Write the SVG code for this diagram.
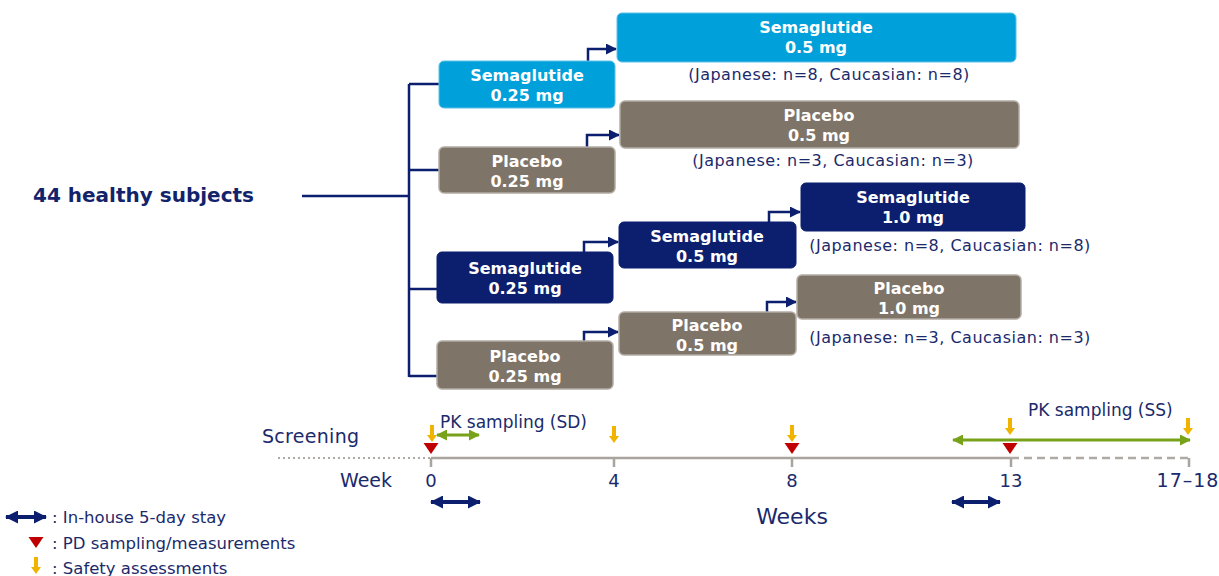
<svg xmlns="http://www.w3.org/2000/svg" width="1219" height="576" viewBox="0 0 1219 576">
<style>
.bx{font-family:"DejaVu Sans",Verdana,sans-serif;font-weight:bold;font-size:16px;fill:#fff;text-anchor:middle}
.lb{font-family:"DejaVu Sans",Verdana,sans-serif;font-size:16px;letter-spacing:0.5px;fill:#1b2a6b;text-anchor:middle}
.tl{font-family:"DejaVu Sans",Verdana,sans-serif;fill:#1b2a6b}
.lg{font-family:"DejaVu Sans",Verdana,sans-serif;font-size:16.5px;fill:#1b2a6b}
.lblue{fill:#00a0da;stroke:#5cc0e8;stroke-width:1}
.gray{fill:#7f7468;stroke:#b3aca4;stroke-width:1.5}
.navy{fill:#0c1f6f;stroke:#0c1f6f;stroke-width:1}
.conn{fill:none;stroke:#0c1f6f;stroke-width:2.5}
.elb{fill:none;stroke:#0c1f6f;stroke-width:2.5;marker-end:url(#ah)}
.green{fill:none;stroke:#78a21a;stroke-width:3;marker-start:url(#gh);marker-end:url(#gh)}
.stay{fill:none;stroke:#0c1f6f;stroke-width:4;marker-start:url(#nh);marker-end:url(#nh)}
.tri{fill:#c00000}
.saf{fill:#f0b400}
</style>
<defs>
<marker id="ah" markerWidth="11" markerHeight="11" refX="10" refY="5.5" orient="auto" markerUnits="userSpaceOnUse"><path d="M0,0 L11,5.5 L0,11 z" fill="#0c1f6f"/></marker>
<marker id="gh" markerWidth="11" markerHeight="11" refX="10" refY="5.5" orient="auto-start-reverse" markerUnits="userSpaceOnUse"><path d="M0,0 L11,5.5 L0,11 z" fill="#78a21a"/></marker>
<marker id="nh" markerWidth="13" markerHeight="13" refX="12" refY="6.5" orient="auto-start-reverse" markerUnits="userSpaceOnUse"><path d="M0,0 L13,6.5 L0,13 z" fill="#0c1f6f"/></marker>
<symbol id="sa" overflow="visible"><path d="M-2,0 L2,0 L2,10 L5,10 L0,17 L-5,10 L-2,10 z" class="saf"/></symbol>
<symbol id="pd" overflow="visible"><path d="M-7.5,0 L7.5,0 L0,11 z" class="tri"/></symbol>
</defs>

<g id="connectors">
<path class="conn" d="M302,196 L409,196"/>
<path class="conn" d="M409,84 L409,377"/>
<path class="conn" d="M409,84 L439,84 M409,170 L439,170 M409,289 L437,289 M409,376 L437,376"/>
<path class="elb" d="M588,61 L588,49 L616,49"/>
<path class="elb" d="M587,147 L587,135 L619,135"/>
<path class="elb" d="M584,252 L584,242 L618,242"/>
<path class="elb" d="M584,341 L584,332 L618,332"/>
<path class="elb" d="M769,222 L769,212 L800,212"/>
<path class="elb" d="M767,312 L767,302 L796,302"/>
</g>

<g id="subjects"><text x="33" y="202" font-family="DejaVu Sans,Verdana,sans-serif" font-weight="bold" font-size="20" fill="#13236b">44 healthy subjects</text></g>

<g id="sema025a"><rect class="lblue" x="439" y="61" width="176" height="47" rx="5"/><text class="bx" x="527" y="81">Semaglutide</text><text class="bx" x="527" y="101">0.25 mg</text></g>
<g id="sema05a"><rect class="lblue" x="617" y="13" width="399" height="49" rx="5"/><text class="bx" x="816" y="33">Semaglutide</text><text class="bx" x="816" y="53">0.5 mg</text><text class="lb" x="829" y="80">(Japanese: n=8, Caucasian: n=8)</text></g>
<g id="plac025a"><rect class="gray" x="439" y="147" width="176" height="46" rx="5"/><text class="bx" x="527" y="167">Placebo</text><text class="bx" x="527" y="187">0.25 mg</text></g>
<g id="plac05a"><rect class="gray" x="620" y="101" width="399" height="47" rx="5"/><text class="bx" x="819" y="121">Placebo</text><text class="bx" x="819" y="141">0.5 mg</text><text class="lb" x="833" y="166">(Japanese: n=3,  Caucasian: n=3)</text></g>
<g id="sema025b"><rect class="navy" x="437" y="252" width="176" height="51" rx="5"/><text class="bx" x="525" y="274">Semaglutide</text><text class="bx" x="525" y="294">0.25 mg</text></g>
<g id="sema05b"><rect class="navy" x="619" y="222" width="177" height="46" rx="5"/><text class="bx" x="707" y="242">Semaglutide</text><text class="bx" x="707" y="262">0.5 mg</text></g>
<g id="sema10"><rect class="navy" x="801" y="183" width="224" height="48" rx="5"/><text class="bx" x="913" y="203">Semaglutide</text><text class="bx" x="913" y="223">1.0 mg</text><text class="lb" x="950" y="251">(Japanese: n=8, Caucasian: n=8)</text></g>
<g id="plac025b"><rect class="gray" x="437" y="341" width="176" height="48" rx="5"/><text class="bx" x="525" y="362">Placebo</text><text class="bx" x="525" y="382">0.25 mg</text></g>
<g id="plac05b"><rect class="gray" x="619" y="312" width="177" height="43" rx="5"/><text class="bx" x="707" y="331">Placebo</text><text class="bx" x="707" y="351">0.5 mg</text></g>
<g id="plac10"><rect class="gray" x="797" y="275" width="224" height="44" rx="5"/><text class="bx" x="909" y="294">Placebo</text><text class="bx" x="909" y="314">1.0 mg</text><text class="lb" x="950" y="343">(Japanese: n=3, Caucasian: n=3)</text></g>

<g id="timeline">
<path d="M278,458 L431,458" stroke="#b0aaa4" stroke-width="2" stroke-dasharray="2,3"/>
<path d="M431,458 L1011,458" stroke="#aaa49e" stroke-width="2.5"/>
<path d="M1011,458 L1189,458" stroke="#b0aaa4" stroke-width="2.5" stroke-dasharray="8,5"/>
<path d="M431,458 V467 M614,458 V467 M792,458 V467 M1011,458 V467 M1189,458 V467" stroke="#aaa49e" stroke-width="2.5"/>
<text class="tl" x="262" y="443" style="font-size:19px;letter-spacing:0.3px">Screening</text>
<text class="tl" x="340" y="487" style="font-size:19px">Week</text>
<text class="tl" x="431" y="487" text-anchor="middle" style="font-size:18px">0</text>
<text class="tl" x="614" y="487" text-anchor="middle" style="font-size:18px">4</text>
<text class="tl" x="792" y="487" text-anchor="middle" style="font-size:18px">8</text>
<text class="tl" x="1011" y="487" text-anchor="middle" style="font-size:18px">13</text>
<text class="tl" x="1188" y="487" text-anchor="middle" style="font-size:19px;letter-spacing:1px">17–18</text>
<text class="tl" x="792" y="524" text-anchor="middle" style="font-size:22px">Weeks</text>
<text class="tl" x="440" y="428" style="font-size:17px">PK sampling (SD)</text>
<text class="tl" x="1028" y="416" style="font-size:17px">PK sampling (SS)</text>
<path class="green" d="M437,435 L479,435"/>
<path class="green" d="M953,440 L1190,440"/>
<use href="#sa" x="432" y="425"/>
<use href="#sa" x="614" y="426"/>
<use href="#sa" x="792" y="425"/>
<use href="#sa" x="1010" y="418"/>
<use href="#sa" x="1188" y="418"/>
<use href="#pd" x="431" y="443"/>
<use href="#pd" x="792" y="443"/>
<use href="#pd" x="1010" y="443"/>
<path class="stay" d="M431,502 L480,502"/>
<path class="stay" d="M952,502 L1000,502"/>
</g>

<g id="legend">
<path class="stay" d="M6,517 L46,517"/>
<text class="lg" x="52" y="523">:  In-house 5-day stay</text>
<use href="#pd" x="36" y="537"/>
<text class="lg" x="52" y="549">:  PD sampling/measurements</text>
<use href="#sa" x="36" y="557"/>
<text class="lg" x="52" y="574">:  Safety assessments</text>
</g>
</svg>
